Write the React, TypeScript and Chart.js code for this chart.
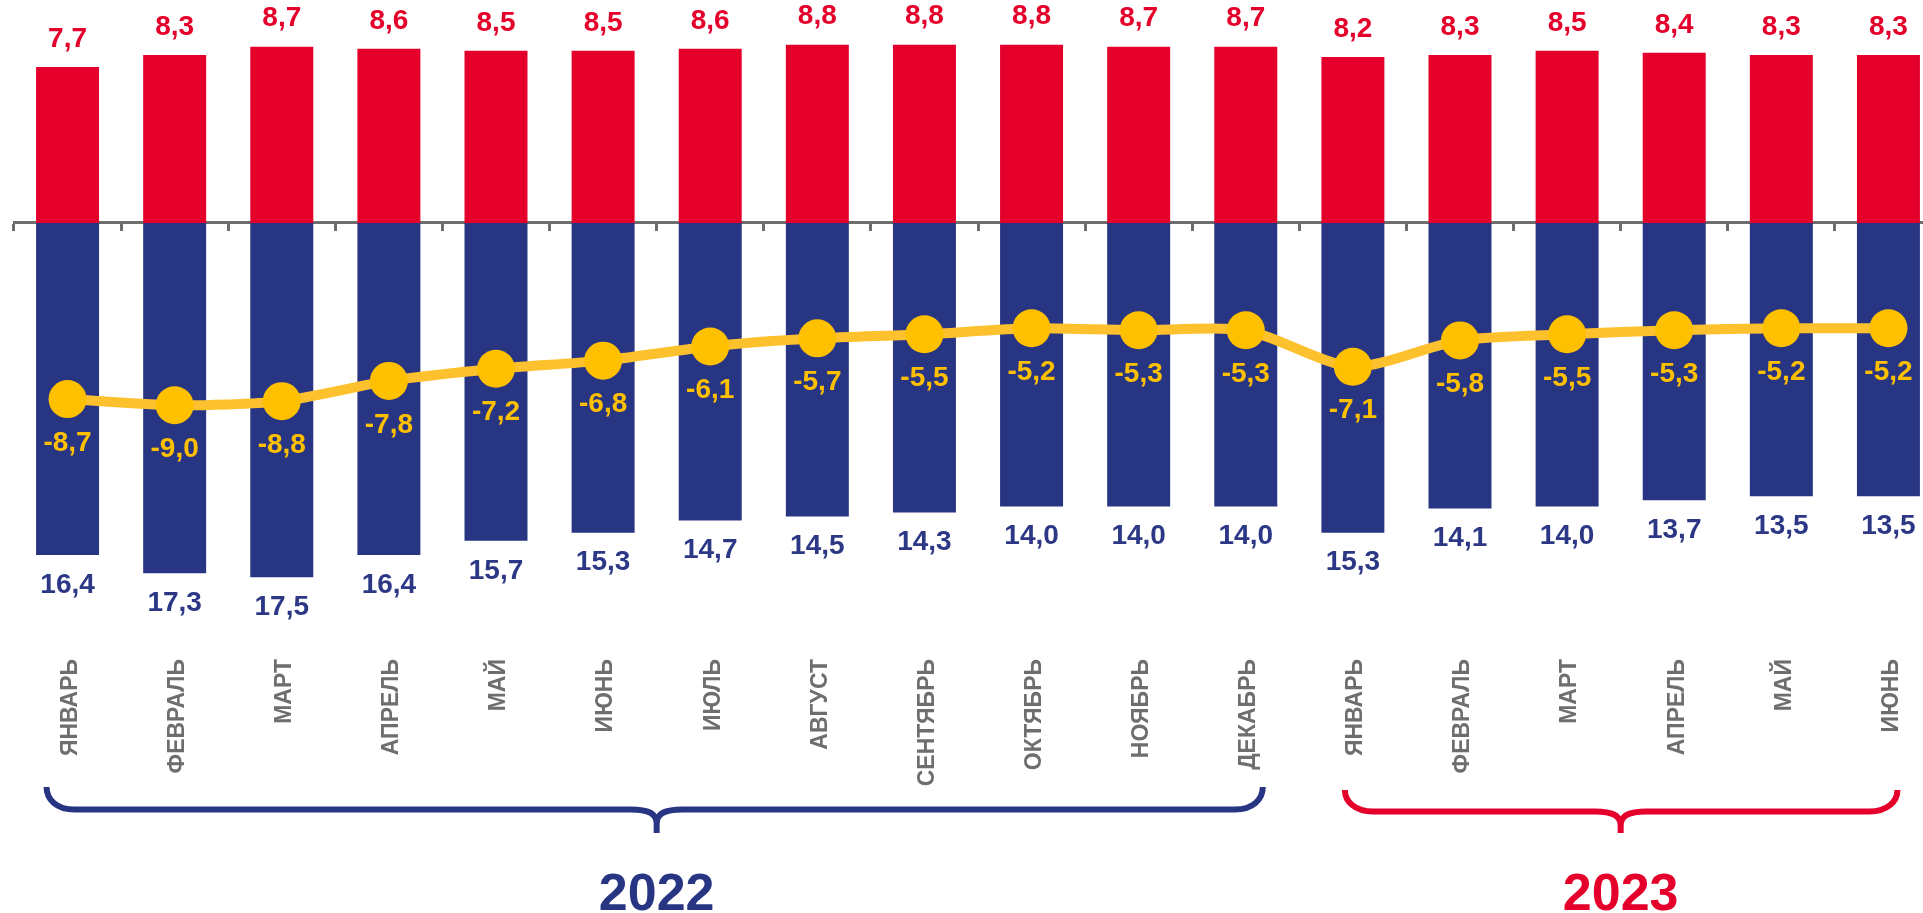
import React, { useEffect, useRef } from "react";
import { Chart, registerables } from "chart.js";

Chart.register(...registerables);

const months = [
  "ЯНВАРЬ", "ФЕВРАЛЬ", "МАРТ", "АПРЕЛЬ", "МАЙ", "ИЮНЬ", "ИЮЛЬ", "АВГУСТ", "СЕНТЯБРЬ",
  "ОКТЯБРЬ", "НОЯБРЬ", "ДЕКАБРЬ", "ЯНВАРЬ", "ФЕВРАЛЬ", "МАРТ", "АПРЕЛЬ", "МАЙ", "ИЮНЬ",
];
const positiveValues = [7.7, 8.3, 8.7, 8.6, 8.5, 8.5, 8.6, 8.8, 8.8, 8.8, 8.7, 8.7, 8.2, 8.3, 8.5, 8.4, 8.3, 8.3];
const negativeValues = [-16.4, -17.3, -17.5, -16.4, -15.7, -15.3, -14.7, -14.5, -14.3, -14.0, -14.0, -14.0, -15.3, -14.1, -14.0, -13.7, -13.5, -13.5];
const balanceValues = [-8.7, -9.0, -8.8, -7.8, -7.2, -6.8, -6.1, -5.7, -5.5, -5.2, -5.3, -5.3, -7.1, -5.8, -5.5, -5.3, -5.2, -5.2];
const yearLabels = ["2022", "2023"];
const yearFirstIndex = [0, 12];
const yearLastIndex = [11, 17];

const RED = "#E4002B";
const BLUE = "#283583";
const BLUE_TEXT = "#2C3886";
const YELLOW = "#FFC000";
const YELLOW_LINE = "#FEC12E";
const GREY = "#6E6E6E";
const BOLD_FONT = "'Liberation Sans', Arial, sans-serif";

const fmt = (v: number) => Math.abs(v).toFixed(1).replace(".", ",");
const fmtSigned = (v: number) => v.toFixed(1).replace(".", ",");

function drawBrace(
  ctx: CanvasRenderingContext2D,
  left: number,
  right: number,
  center: number,
  yTop: number,
  yLine: number,
  yTip: number,
  color: string
) {
  ctx.save();
  ctx.strokeStyle = color;
  ctx.lineWidth = 6;
  ctx.lineCap = "butt";
  ctx.lineJoin = "round";
  ctx.beginPath();
  ctx.moveTo(left, yTop);
  ctx.bezierCurveTo(left, yLine - 10, left + 10, yLine, left + 28, yLine);
  ctx.lineTo(center - 26, yLine);
  ctx.bezierCurveTo(center - 8, yLine, center, yLine + 4, center, yLine + 14);
  ctx.lineTo(center, yTip);
  ctx.moveTo(center, yLine + 14);
  ctx.bezierCurveTo(center, yLine + 4, center + 8, yLine, center + 26, yLine);
  ctx.lineTo(right - 28, yLine);
  ctx.bezierCurveTo(right - 10, yLine, right, yLine - 10, right, yTop);
  ctx.stroke();
  ctx.restore();
}

const labelsPlugin = {
  id: "valueLabels",
  afterDatasetsDraw(chart: any) {
    const ctx: CanvasRenderingContext2D = chart.ctx;
    ctx.save();
    ctx.textAlign = "center";
    ctx.textBaseline = "middle";
    ctx.font = `bold 28px ${BOLD_FONT}`;
    const redMeta = chart.getDatasetMeta(0);
    const blueMeta = chart.getDatasetMeta(1);
    const lineMeta = chart.getDatasetMeta(2);
    redMeta.data.forEach((el: any, i: number) => {
      ctx.fillStyle = RED;
      ctx.fillText(fmt(positiveValues[i]), el.x, el.y - 28);
    });
    blueMeta.data.forEach((el: any, i: number) => {
      ctx.fillStyle = BLUE_TEXT;
      ctx.fillText(fmt(negativeValues[i]), el.x, el.y + 30);
    });
    lineMeta.data.forEach((el: any, i: number) => {
      ctx.fillStyle = YELLOW;
      ctx.fillText(fmtSigned(balanceValues[i]), el.x, el.y + 44);
    });
    ctx.restore();
  },
  afterDraw(chart: any) {
    const ctx: CanvasRenderingContext2D = chart.ctx;
    const xs = chart.scales.x;
    const colors = [BLUE, RED];
    const leftOff = [-21, -8];
    const rightOff = [17, 9];
    const tops = [787, 790];
    const lines = [809.5, 811.5];
    yearLabels.forEach((label, k) => {
      const a = xs.getPixelForValue(yearFirstIndex[k]);
      const b = xs.getPixelForValue(yearLastIndex[k]);
      const center = (a + b) / 2;
      drawBrace(ctx, a + leftOff[k], b + rightOff[k], center, tops[k], lines[k], 833, colors[k]);
      ctx.save();
      ctx.fillStyle = colors[k];
      ctx.font = `bold 52px ${BOLD_FONT}`;
      ctx.textAlign = "center";
      ctx.textBaseline = "alphabetic";
      ctx.fillText(label, center, 910);
      ctx.restore();
    });
  },
};

export default function App() {
  const canvasRef = useRef<HTMLCanvasElement | null>(null);

  useEffect(() => {
    if (!canvasRef.current) return;
    const chart = new Chart(canvasRef.current, {
      type: "bar",
      data: {
        labels: months,
        datasets: [
          {
            type: "bar",
            data: positiveValues,
            backgroundColor: RED,
            grouped: false,
            categoryPercentage: 0.588,
            barPercentage: 1,
            order: 2,
          } as any,
          {
            type: "bar",
            data: negativeValues,
            backgroundColor: BLUE,
            grouped: false,
            categoryPercentage: 0.588,
            barPercentage: 1,
            order: 2,
          } as any,
          {
            type: "line",
            data: balanceValues,
            borderColor: YELLOW_LINE,
            borderWidth: 10,
            backgroundColor: YELLOW,
            pointBackgroundColor: YELLOW,
            pointBorderWidth: 0,
            pointRadius: 19,
            tension: 0.25,
            fill: false,
            order: 0,
          } as any,
        ],
      },
      options: {
        animation: false,
        responsive: true,
        maintainAspectRatio: false,
        layout: { autoPadding: false, padding: { left: 14, right: 0, top: 0, bottom: 0 } },
        plugins: { legend: { display: false }, tooltip: { enabled: false } },
        events: [],
        scales: {
          x: {
            type: "category",
            position: "bottom",
            offset: true,
            grid: { display: false, drawTicks: false, offset: true },
            border: { display: false },
            ticks: {
              autoSkip: false,
              minRotation: 90,
              maxRotation: 90,
              padding: 9,
              labelOffset: 3,
              color: GREY,
              font: { family: BOLD_FONT, size: 23, weight: "bold" },
            },
            afterFit: (scale: any) => {
              scale.height = 263;
            },
          },
          x2: {
            type: "category",
            labels: months,
            position: { y: 0 } as any,
            offset: true,
            z: 1,
            grid: {
              display: true,
              drawOnChartArea: false,
              drawTicks: true,
              tickLength: 7,
              tickWidth: 3,
              tickColor: GREY,
              color: GREY,
              lineWidth: 3,
              offset: true,
            },
            border: { display: true, color: GREY, width: 3 },
            ticks: { display: false },
          } as any,
          y: {
            display: false,
            min: -21.09,
            max: 11.01,
          },
        },
      } as any,
      plugins: [labelsPlugin],
    });
    return () => chart.destroy();
  }, []);

  return (
    <div
      style={{
        position: "absolute",
        left: 0,
        top: 0,
        width: "1923px",
        height: "913px",
        overflow: "hidden",
        background: "#ffffff",
      }}
    >
      <div style={{ position: "relative", width: "1942px", height: "913px" }}>
        <canvas ref={canvasRef} />
      </div>
    </div>
  );
}
